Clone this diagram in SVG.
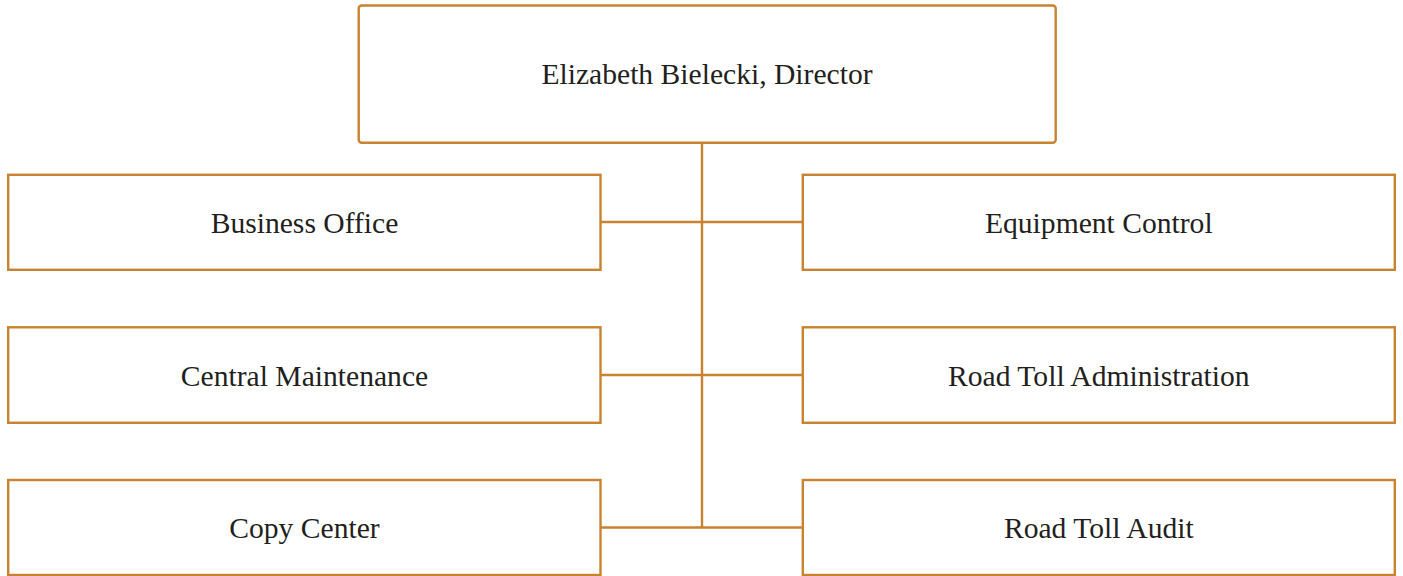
<svg xmlns="http://www.w3.org/2000/svg" width="1403" height="576" viewBox="0 0 1403 576">
<style>
.box{fill:#fff;stroke:#c9822f;stroke-width:2.4}
.ln{stroke:#c9822f;stroke-width:2.4;fill:none}
text{font-family:"Liberation Serif","Times New Roman",serif;font-size:29.6px;fill:#231f20;text-anchor:middle}
</style>
<rect width="1403" height="576" fill="#fff"/>
<g id="connectors">
<path class="ln" d="M702 142.8V527.5M600.5 222H802.8M600.5 375H802.8M600.5 527.5H802.8"/>
</g>
<g id="director"><rect class="box" x="358.7" y="5.5" width="697" height="137.3" rx="3"/><text x="707" y="84.3">Elizabeth Bielecki, Director</text></g>
<g id="business-office"><rect class="box" x="8.2" y="174.8" width="592.3" height="95"/><text x="304.5" y="232.7">Business Office</text></g>
<g id="central-maintenance"><rect class="box" x="8.2" y="327.3" width="592.3" height="95.5"/><text x="304.5" y="385.7">Central Maintenance</text></g>
<g id="copy-center"><rect class="box" x="8.2" y="480" width="592.3" height="95"/><text x="304.5" y="538.2">Copy Center</text></g>
<g id="equipment-control"><rect class="box" x="802.8" y="174.8" width="592" height="95"/><text x="1098.8" y="232.7">Equipment Control</text></g>
<g id="road-toll-administration"><rect class="box" x="802.8" y="327.3" width="592" height="95.5"/><text x="1098.8" y="385.7">Road Toll Administration</text></g>
<g id="road-toll-audit"><rect class="box" x="802.8" y="480" width="592" height="95"/><text x="1098.8" y="538.2">Road Toll Audit</text></g>
</svg>
